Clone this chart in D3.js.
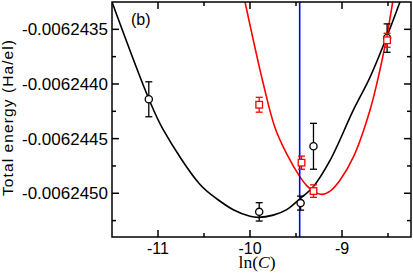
<!DOCTYPE html>
<html>
<head>
<meta charset="utf-8">
<script src="https://cdn.jsdelivr.net/npm/d3@7"></script>
<style>
  body { margin: 0; background: #fff; }
  text { font-family: "Liberation Sans", Arial, sans-serif; }
</style>
</head>
<body>
<svg width="413" height="273"></svg>
<script>
// data points: ln(C), energy, error
var blackX = [-11.1, -9.9, -9.45, -9.31, -8.51];
var blackY = [-0.00624414, -0.00624517, -0.00624509, -0.00624457, -0.00624358];
var blackErr = [1.6e-7, 0.84e-7, 0.64e-7, 2.1e-7, 1.3e-7];

var redX = [-9.9, -9.44, -9.31, -8.51];
var redY = [-0.00624419, -0.00624472, -0.00624498, -0.0062436];
var redErr = [0.68e-7, 0.6e-7, 0.57e-7, 0.64e-7];

// fitted curves
var blackCurveX = [-11.5, -11.098, -10.942, -10.543, -10.362, -10.182, -10.0, -9.91, -9.747, -9.601, -9.457, -9.312, -9.13, -8.877, -8.696, -8.514, -8.37];
var blackCurveY = [-0.00624325, -0.00624414, -0.00624442, -0.00624492, -0.00624505, -0.00624515, -0.00624521, -0.00624522, -0.0062452, -0.00624515, -0.00624505, -0.00624494, -0.0062447, -0.00624424, -0.00624394, -0.00624357, -0.00624325];

var redCurveX = [-10.054, -9.855, -9.728, -9.601, -9.457, -9.384, -9.312, -9.217, -9.13, -9.022, -8.877, -8.696, -8.587, -8.514, -8.449];
var redCurveY = [-0.00624325, -0.006244, -0.0062444, -0.00624464, -0.00624485, -0.00624493, -0.00624498, -0.00624501, -0.00624498, -0.00624488, -0.00624467, -0.00624424, -0.00624387, -0.00624357, -0.00624325];

var blueLineX = -9.46;

var xTicks = [-11, -10, -9];
var xMinor = [-10.5, -9.5, -8.5];
var yTicks = [-0.0062435, -0.006244, -0.0062445, -0.006245];
var yMinor = [-0.00624375, -0.00624425, -0.00624475, -0.00624525];

var svg = d3.select("svg");
var pLeft = 112, pRight = 411, pTop = 2, pBottom = 237;

var x = d3.scaleLinear().domain([-11.5, -8.25]).range([pLeft, pRight]);
var y = d3.scaleLinear().domain([-0.0062454, -0.00624325]).range([pBottom, pTop]);

svg.append("clipPath").attr("id", "clip")
  .append("rect").attr("x", pLeft).attr("y", pTop)
  .attr("width", pRight - pLeft).attr("height", pBottom - pTop);

var plot = svg.append("g").attr("clip-path", "url(#clip)");

var line = d3.line()
  .x(function (d) { return x(d[0]); })
  .y(function (d) { return y(d[1]); })
  .curve(d3.curveCatmullRom);

plot.append("path")
  .datum(d3.zip(blackCurveX, blackCurveY))
  .attr("d", line)
  .attr("fill", "none")
  .attr("stroke", "#000")
  .attr("stroke-width", 1.6);

plot.append("path")
  .datum(d3.zip(redCurveX, redCurveY))
  .attr("d", line)
  .attr("fill", "none")
  .attr("stroke", "#ff0000")
  .attr("stroke-width", 1.6);

plot.append("line")
  .attr("x1", x(blueLineX)).attr("x2", x(blueLineX))
  .attr("y1", pTop).attr("y2", pBottom)
  .attr("stroke", "#0000ff")
  .attr("stroke-width", 1.6);

function errorBars(xs, ys, es, color) {
  var g = svg.append("g").attr("stroke", color).attr("stroke-width", 1.3).attr("fill", "none");
  var pts = d3.zip(xs, ys, es);
  var eb = g.selectAll("g.eb").data(pts).enter().append("g");
  eb.append("line")
    .attr("x1", function (d) { return x(d[0]); })
    .attr("x2", function (d) { return x(d[0]); })
    .attr("y1", function (d) { return y(d[1] - d[2]); })
    .attr("y2", function (d) { return y(d[1] + d[2]); });
  eb.append("line")
    .attr("x1", function (d) { return x(d[0]) - 3.5; })
    .attr("x2", function (d) { return x(d[0]) + 3.5; })
    .attr("y1", function (d) { return y(d[1] + d[2]); })
    .attr("y2", function (d) { return y(d[1] + d[2]); });
  eb.append("line")
    .attr("x1", function (d) { return x(d[0]) - 3.5; })
    .attr("x2", function (d) { return x(d[0]) + 3.5; })
    .attr("y1", function (d) { return y(d[1] - d[2]); })
    .attr("y2", function (d) { return y(d[1] - d[2]); });
  return eb;
}

var blackPts = errorBars(blackX, blackY, blackErr, "#000");
blackPts.append("circle")
  .attr("cx", function (d) { return x(d[0]); })
  .attr("cy", function (d) { return y(d[1]); })
  .attr("r", 3.6)
  .attr("fill", "#fff");

var redPts = errorBars(redX, redY, redErr, "#ff0000");
redPts.append("rect")
  .attr("x", function (d) { return x(d[0]) - 3.3; })
  .attr("y", function (d) { return y(d[1]) - 3.3; })
  .attr("width", 6.6)
  .attr("height", 6.6)
  .attr("fill", "#fff");

// frame and ticks on all sides
var axes = svg.append("g").attr("stroke", "#000").attr("stroke-width", 1.5);
axes.append("rect")
  .attr("x", pLeft).attr("y", pTop)
  .attr("width", pRight - pLeft).attr("height", pBottom - pTop)
  .attr("fill", "none");

function xTickMarks(vals, len) {
  vals.forEach(function (v) {
    axes.append("line").attr("x1", x(v)).attr("x2", x(v)).attr("y1", pBottom).attr("y2", pBottom - len);
    axes.append("line").attr("x1", x(v)).attr("x2", x(v)).attr("y1", pTop).attr("y2", pTop + len);
  });
}
function yTickMarks(vals, len) {
  vals.forEach(function (v) {
    axes.append("line").attr("y1", y(v)).attr("y2", y(v)).attr("x1", pLeft).attr("x2", pLeft + len);
    axes.append("line").attr("y1", y(v)).attr("y2", y(v)).attr("x1", pRight).attr("x2", pRight - len);
  });
}
xTickMarks(xTicks, 7);
xTickMarks(xMinor, 4);
yTickMarks(yTicks, 7);
yTickMarks(yMinor, 4);

svg.selectAll("text.xl").data(xTicks).enter().append("text")
  .attr("x", function (d) { return x(d); })
  .attr("y", 254)
  .attr("text-anchor", "middle")
  .attr("font-size", 16)
  .text(function (d) { return d3.format("d")(d).replace("−", "-"); });

svg.selectAll("text.yl").data(yTicks).enter().append("text")
  .attr("x", 108)
  .attr("y", function (d) { return y(d) + 6; })
  .attr("text-anchor", "end")
  .attr("font-size", 17)
  .text(function (d) { return d3.format(".7f")(d).replace("−", "-"); });

svg.append("text")
  .attr("transform", "translate(13,118) rotate(-90)")
  .attr("text-anchor", "middle")
  .attr("font-size", 15.5)
  .attr("textLength", 156)
  .attr("lengthAdjust", "spacing")
  .text("Total energy (Ha/el)");

var xt = svg.append("text")
  .attr("x", 257)
  .attr("y", 268)
  .attr("text-anchor", "middle")
  .attr("font-size", 17.5)
  .style("font-family", "'Liberation Serif', 'Times New Roman', serif");
xt.append("tspan").text("ln(");
xt.append("tspan").attr("font-style", "italic").text("C");
xt.append("tspan").text(")");

svg.append("text")
  .attr("x", 131)
  .attr("y", 25)
  .attr("font-size", 16)
  .text("(b)");
</script>
</body>
</html>
